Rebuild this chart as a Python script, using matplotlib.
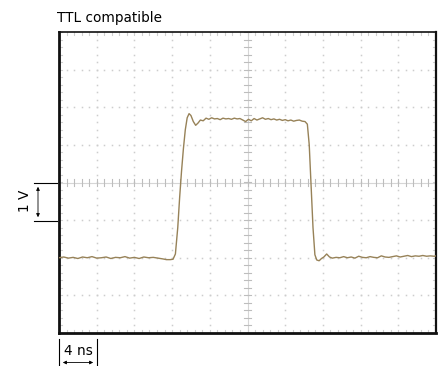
import numpy as np
import matplotlib
matplotlib.use("Agg")
import matplotlib.pyplot as plt

# ---- data (time in ns, signal in V) ----
time_ns = [0.0, 0.5, 1.0, 1.5, 2.0, 2.5, 3.0, 3.5, 4.0, 4.5, 5.0, 5.5, 6.0, 6.5, 7.0, 7.5,
           8.0, 8.5, 9.0, 9.5, 10.0, 10.5, 11.0, 11.4, 11.8, 12.1, 12.35,
           12.6, 12.8, 13.0, 13.2, 13.4, 13.6, 13.8, 14.0, 14.25, 14.5, 14.75, 15.0,
           15.3, 15.6, 15.9, 16.2, 16.5, 16.8, 17.1, 17.4, 17.7, 18.0, 18.3, 18.6,
           18.9, 19.2, 19.5, 19.8, 20.1, 20.4, 20.7, 21.0, 21.3, 21.6, 21.9, 22.2,
           22.5, 22.8, 23.1, 23.4, 23.7, 24.0, 24.3, 24.6, 24.9, 25.2, 25.5, 25.8,
           26.1, 26.35, 26.55, 26.75, 26.95, 27.15, 27.35, 27.6, 27.85, 28.1, 28.4,
           28.7, 29.0, 29.4, 29.8, 30.2, 30.6, 31.0, 31.4, 31.8, 32.2, 32.6, 33.0,
           33.4, 33.8, 34.2, 34.6, 35.0, 35.4, 35.8, 36.2, 36.6, 37.0, 37.4, 37.8,
           38.2, 38.6, 39.0, 39.4, 39.8, 40.0]
volts = [-2.00, -1.98, -2.01, -1.99, -2.02, -1.98, -2.00, -1.97, -2.01, -2.00, -1.98, -2.02,
         -1.99, -2.00, -1.97, -2.01, -1.99, -2.02, -1.98, -2.00, -1.99, -2.01, -2.03, -2.05,
         -2.05, -2.04, -1.90,
         -1.20, -0.40, 0.30, 0.90, 1.40, 1.72, 1.83, 1.78, 1.62, 1.52, 1.58, 1.66,
         1.64, 1.71, 1.68, 1.72, 1.69, 1.70, 1.67, 1.71, 1.69, 1.70, 1.68, 1.71,
         1.69, 1.70, 1.66, 1.62, 1.68, 1.64, 1.70, 1.66, 1.69, 1.72, 1.68, 1.70,
         1.67, 1.69, 1.66, 1.68, 1.65, 1.67, 1.64, 1.66, 1.63, 1.65, 1.66, 1.63,
         1.62, 1.55, 1.00, -0.10, -1.20, -1.92, -2.06, -2.08, -2.02, -1.98, -1.90,
         -1.98, -2.01, -1.99, -2.00, -1.97, -2.00, -1.98, -2.01, -1.96, -1.99, -2.00, -1.97,
         -1.99, -2.00, -1.95, -1.98, -1.99, -1.97, -1.95, -1.98, -1.96, -1.94, -1.97, -1.95,
         -1.96, -1.94, -1.96, -1.95, -1.96, -1.95]

x_div = 4.0   # ns per division
y_div = 1.0   # V per division
n_xdiv, n_ydiv = 10, 8
title_text = "TTL compatible"
vscale_label = "1 V"
hscale_label = "4 ns"

W, H = 443, 366
fig = plt.figure(figsize=(W / 100, H / 100), dpi=100)
L, B, AW, AH = 59 / W, (H - 333) / H, 377 / W, 301 / H
ax = fig.add_axes([L, B, AW, AH])
xmax = n_xdiv * x_div
ymin, ymax = -n_ydiv / 2 * y_div, n_ydiv / 2 * y_div
ax.set_xlim(0, xmax)
ax.set_ylim(ymin, ymax)
ax.set_xticks([])
ax.set_yticks([])

grid_col = "#cdcdcd"
tick_col = "#bdbdbd"
edge_col = "#d0d0d0"
# dotted grid made of dots every 0.2 division
xs_fine = np.arange(0, xmax + 1e-9, x_div / 5)
ys_fine = np.arange(ymin, ymax + 1e-9, y_div / 5)
for gx in np.arange(x_div, xmax, x_div):
    if abs(gx - xmax / 2) < 1e-9:
        continue
    ax.plot(np.full_like(ys_fine, gx), ys_fine, ls="none", marker="s", ms=1.1,
            mec="none", mfc=grid_col, zorder=1)
for gy in np.arange(ymin + y_div, ymax, y_div):
    if abs(gy) < 1e-9:
        continue
    ax.plot(xs_fine, np.full_like(xs_fine, gy), ls="none", marker="s", ms=1.1,
            mec="none", mfc=grid_col, zorder=1)

# center cross with ticks
ax.axhline(0, color="#d6d6d6", lw=0.8, zorder=1)
ax.axvline(xmax / 2, color="#d6d6d6", lw=0.8, zorder=1)
tx = 3.2 / 37.7 * x_div
ty = 3.2 / 37.7 * y_div
for xv in xs_fine:
    ax.plot([xv, xv], [-ty, ty], color=tick_col, lw=0.8, zorder=1)
for yv in ys_fine:
    ax.plot([xmax / 2 - tx, xmax / 2 + tx], [yv, yv], color=tick_col, lw=0.8, zorder=1)

# edge ticks (inside frame)
ex = 3.5 / 37.7 * x_div
ey = 3.5 / 37.7 * y_div
for xv in xs_fine:
    ax.plot([xv, xv], [ymin, ymin + ey], color=edge_col, lw=0.8, zorder=1)
    ax.plot([xv, xv], [ymax - ey, ymax], color=edge_col, lw=0.8, zorder=1)
for yv in ys_fine:
    ax.plot([0, ex], [yv, yv], color=edge_col, lw=0.8, zorder=1)
    ax.plot([xmax - ex, xmax], [yv, yv], color=edge_col, lw=0.8, zorder=1)

# signal trace
ax.plot(time_ns, volts, color="#978258", lw=1.0, zorder=3)

for side, lw in (("left", 2.0), ("bottom", 2.0), ("top", 1.2), ("right", 1.6)):
    ax.spines[side].set_linewidth(lw)
    ax.spines[side].set_color("#111111")

# title
fig.text(57 / W, 1 - 18 / H, title_text, fontsize=9.8, ha="left", va="center",
         family="DejaVu Sans")

def fx(px):
    return px / W

def fy(py):
    return 1 - py / H

# vertical scale marker (1 V)
fig.add_artist(plt.Line2D([fx(34), fx(57)], [fy(183), fy(183)], color="black", lw=0.8))
fig.add_artist(plt.Line2D([fx(34), fx(57)], [fy(221), fy(221)], color="black", lw=0.8))
fig.add_artist(matplotlib.patches.FancyArrowPatch((fx(38), fy(184)), (fx(38), fy(220)),
               transform=fig.transFigure, arrowstyle="<|-|>", mutation_scale=5,
               color="black", lw=0.6))
fig.text(fx(25), fy(201), vscale_label, rotation=90, fontsize=9.8, ha="center", va="center")

# horizontal scale marker (4 ns)
fig.add_artist(plt.Line2D([fx(59), fx(59)], [fy(339), fy(366)], color="black", lw=0.8))
fig.add_artist(plt.Line2D([fx(97), fx(97)], [fy(339), fy(366)], color="black", lw=0.8))
fig.add_artist(matplotlib.patches.FancyArrowPatch((fx(60), fy(362.5)), (fx(96), fy(362.5)),
               transform=fig.transFigure, arrowstyle="<|-|>", mutation_scale=5,
               color="black", lw=0.6))
fig.text(fx(78), fy(351), hscale_label, fontsize=9.8, ha="center", va="center")

fig.savefig("out.png", dpi=100)
